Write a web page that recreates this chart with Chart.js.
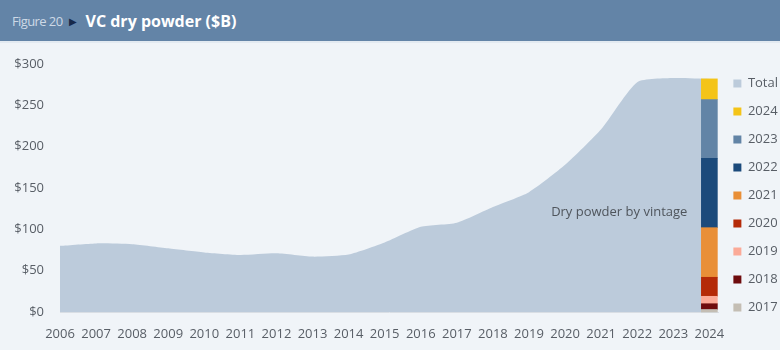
<!DOCTYPE html>
<html>
<head>
<meta charset="utf-8">
<script src="https://cdn.jsdelivr.net/npm/chart.js@4"></script>
<style>
  body { margin: 0; width: 780px; height: 350px; background: #f0f4f8; overflow: hidden; font-family: "Open Sans", sans-serif; }
  .header { height: 41px; background: #6384a7; border-bottom: 2px solid #e3eaf1; display: flex; align-items: center; padding-left: 12px; }
  .fig { color: #cdd9e6; font-size: 13px; letter-spacing: -0.6px; }
  .arrow { color: #17294a; font-size: 10px; margin: 0 8px 0 7px; }
  .title { color: #ffffff; font-size: 16px; font-weight: 700; }
  .wrap { position: relative; width: 780px; height: 307px; }
</style>
</head>
<body>
<div class="header"><span class="fig">Figure 20</span><span class="arrow">&#9654;</span><span class="title">VC dry powder ($B)</span></div>
<div class="wrap"><canvas id="chart"></canvas></div>
<script>
const years = [2006, 2007, 2008, 2009, 2010, 2011, 2012, 2013, 2014, 2015,
  2016, 2017, 2018, 2019, 2020, 2021, 2022, 2023, 2024];
// total dry powder, $B
const totalValues = [80, 83, 82, 77, 72, 69, 71, 67, 69.5, 84, 103, 108, 127, 145, 178, 221, 278, 283, 282];
// 2024 dry powder split by vintage (bottom to top)
const vintages = ['2017', '2018', '2019', '2020', '2021', '2022', '2023', '2024'];
const vintageValues = [3, 7, 9, 23, 60, 84, 71, 25];
const vintageColors = ['#c4beb4', '#6e0b0d', '#fbaa98', '#b42a08', '#e98f37', '#1b4a7b', '#6284a6', '#f4c418'];
const yTicks = [0, 50, 100, 150, 200, 250, 300];

const textColor = '#585e66';
const lastYear = years[years.length - 1];

const vintageSets = vintages.map((v, i) => ({
  type: 'bar',
  label: v,
  data: [{ x: lastYear, y: vintageValues[i] }],
  backgroundColor: vintageColors[i],
  borderWidth: 0,
  barThickness: 16,
  stack: 'vintage',
  order: 0,
  clip: false
}));

const labelPlugin = {
  id: 'areaLabel',
  afterDatasetsDraw(chart) {
    const { ctx, scales } = chart;
    ctx.save();
    ctx.font = '13px "Open Sans"';
    ctx.fillStyle = '#4f555c';
    ctx.textAlign = 'right';
    ctx.textBaseline = 'middle';
    ctx.fillText('Dry powder by vintage', scales.x.getPixelForValue(lastYear) - 22, scales.y.getPixelForValue(121));
    ctx.restore();
  }
};

new Chart(document.getElementById('chart'), {
  data: {
    datasets: [
      ...vintageSets,
      {
        type: 'line',
        label: 'Total',
        data: years.map((y, i) => ({ x: y, y: totalValues[i] })),
        fill: 'origin',
        backgroundColor: '#bccbdb',
        borderColor: '#bccbdb',
        borderWidth: 0,
        pointRadius: 0,
        tension: 0.2,
        stack: 'area',
        order: 1
      }
    ]
  },
  options: {
    responsive: true,
    maintainAspectRatio: false,
    animation: false,
    layout: { padding: { top: 19, left: 8, right: -8, bottom: 0 } },
    plugins: {
      legend: {
        position: 'right',
        align: 'start',
        reverse: true,
        labels: {
          boxWidth: 8,
          boxHeight: 8,
          padding: 15,
          color: textColor,
          font: { family: 'Open Sans', size: 13 }
        }
      },
      tooltip: { enabled: false }
    },
    scales: {
      x: {
        type: 'linear',
        offset: false,
        min: years[0],
        max: lastYear + 0.25,
        stacked: true,
        afterBuildTicks(axis) { axis.ticks = years.map(v => ({ value: v })); },
        afterFit(axis) { axis.height = 38; },
        grid: { display: false, drawTicks: false, offset: false },
        border: { color: '#d9dee4' },
        ticks: { color: textColor, font: { family: 'Open Sans', size: 13 }, padding: 14, maxRotation: 0, autoSkip: false, callback: v => String(v) }
      },
      y: {
        stacked: true,
        min: 0,
        max: 300,
        afterBuildTicks(axis) { axis.ticks = yTicks.map(v => ({ value: v })); },
        afterFit(axis) { axis.width = 52; axis.paddingTop = 21; },
        grid: { display: false, drawTicks: false },
        border: { display: false },
        ticks: { color: textColor, font: { family: 'Open Sans', size: 13 }, padding: 16, callback: v => '$' + v }
      }
    }
  },
  plugins: [labelPlugin]
});
</script>
</body>
</html>
